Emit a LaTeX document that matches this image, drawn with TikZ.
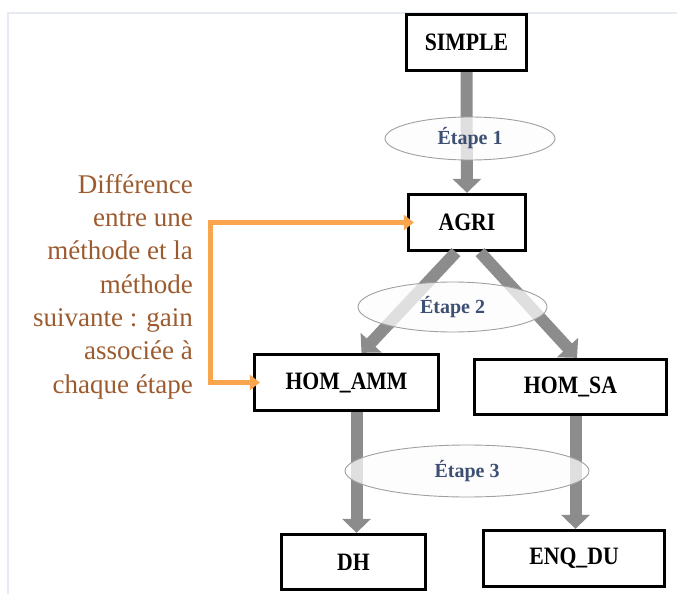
\documentclass[tikz,border=0pt]{standalone}
\usepackage{fontspec}
\usepackage{graphicx}
\setmainfont{Liberation Serif}
\usetikzlibrary{arrows.meta,shapes.geometric}
\definecolor{arrgray}{HTML}{8C8C8C}
\definecolor{ellline}{HTML}{A0A0A0}
\definecolor{ellfill}{HTML}{FCFCFC}
\definecolor{steptxt}{HTML}{3D4F72}
\definecolor{orangeln}{HTML}{F8A54E}
\definecolor{browntxt}{HTML}{9C5B2E}
\definecolor{framecol}{HTML}{E6EAF2}
\newcommand{\boxtxt}[1]{\scalebox{0.87}[1]{#1}}
\tikzset{
  box/.style={draw=black, line width=2.8pt, fill=white, inner sep=0pt,
    font=\fontsize{25}{28}\selectfont\bfseries},
  grayarrow/.style={draw=arrgray, line width=12pt,
    -{Triangle[width=28pt,length=14pt]}},
  stepell/.style={ellipse, draw=ellline, line width=0.9pt, fill=ellfill,
    fill opacity=0.74, text opacity=1, inner sep=0pt, text=steptxt,
    font=\fontsize{20}{23}\selectfont\bfseries},
  orangearrow/.style={draw=orangeln, line width=5pt,
    {Triangle[width=15pt,length=10pt]}-{Triangle[width=15pt,length=10pt]},
    shorten <=-7pt, shorten >=-7pt},
  note/.style={text=browntxt, align=right, inner sep=0pt,
    font=\fontsize{27}{33.3}\selectfont}
}
\begin{document}
\begin{tikzpicture}[x=1pt,y=-1pt]
\useasboundingbox (0,0) rectangle (677,594);
\draw[framecol, line width=2pt] (8,594) -- (8,13) -- (677,13);
% boxes
\node[box, minimum width=120.5pt, minimum height=56.5pt] (SIMPLE) at (466.5,42.5) {\boxtxt{SIMPLE}};
\node[box, minimum width=117.5pt, minimum height=56.5pt] (AGRI) at (467,222.5) {\boxtxt{AGRI}};
\node[box, minimum width=184.5pt, minimum height=56.5pt] (HOMAMM) at (346.5,382.5) {\boxtxt{HOM\_AMM}};
\node[box, minimum width=192.5pt, minimum height=55.5pt] (HOMSA) at (570.5,387) {\boxtxt{HOM\_SA}};
\node[box, minimum width=144.5pt, minimum height=55.5pt] (DH) at (353.5,562) {\boxtxt{DH}};
\node[box, minimum width=181.5pt, minimum height=56.5pt] (ENQDU) at (574,558.5) {\boxtxt{ENQ\_DU}};
% gray arrows
\draw[grayarrow] (SIMPLE.south) -- (AGRI.north);
\draw[grayarrow] ([xshift=-11pt]AGRI.south) -- ([xshift=15pt]HOMAMM.north);
\draw[grayarrow] ([xshift=13pt]AGRI.south) -- ([xshift=6.5pt]HOMSA.north);
\draw[grayarrow] ([xshift=10pt]HOMAMM.south) -- ([xshift=3pt]DH.north);
\draw[grayarrow] ([xshift=5pt]HOMSA.south) -- ([xshift=1.5pt]ENQDU.north);
% step ellipses
\node[stepell, minimum width=170pt, minimum height=43pt] (E1) at (470,138.5) {Étape 1};
\node[stepell, minimum width=189pt, minimum height=50pt] (E2) at (452.5,307) {Étape 2};
\node[stepell, minimum width=244pt, minimum height=52pt] (E3) at (467,471) {Étape 3};
% orange bracket
\coordinate (bendA) at (210,222.5);
\coordinate (bendB) at (210,382.5);
\draw[orangearrow, line join=miter] (AGRI.west) -- (bendA) -- (bendB) -- (HOMAMM.west);
% note
\node[note, anchor=north east] (txt) at (193,174) {Différence\\entre une\\méthode et la\\méthode\\suivante : gain\\associée à\\chaque étape};
\end{tikzpicture}
\end{document}
